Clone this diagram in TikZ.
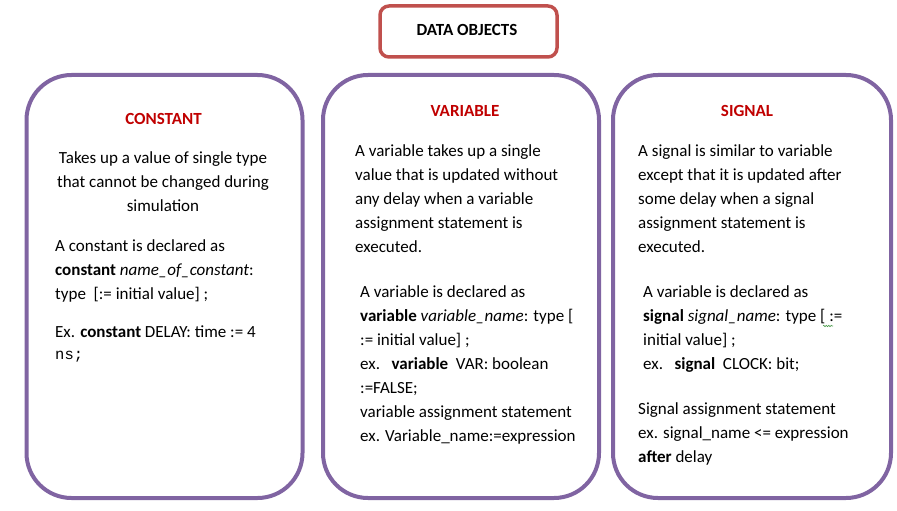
\documentclass[tikz,border=0pt]{standalone}
\usepackage{fontspec}
\setmainfont{Carlito}
\newfontfamily\codefont{Liberation Mono}
\usetikzlibrary{decorations.pathmorphing}
\definecolor{panelpurple}{HTML}{8064A2}
\definecolor{headframe}{HTML}{C0504D}
\definecolor{headred}{HTML}{C00000}
\definecolor{spellgreen}{HTML}{4A9A4A}
\begin{document}
\begin{tikzpicture}[x=1pt,y=-1pt,
  panel/.style={draw=panelpurple, line width=4pt, rounded corners=45pt,
    minimum width=276pt, minimum height=423pt, inner sep=0pt},
  headbox/.style={draw=headframe, line width=3.5pt, rounded corners=9pt,
    minimum width=177pt, minimum height=51pt},
  heading/.style={font=\fontsize{17}{20}\selectfont\bfseries, text=headred,
    anchor=base, inner sep=0pt},
  para/.style={font=\fontsize{17}{24}\selectfont, align=left,
    anchor=north west, inner sep=0pt},
  cpara/.style={para, align=center, anchor=north}]
\useasboundingbox (0,0) rectangle (897,511);

% title
\node[headbox] (title) at (468.5,31.5) {};
\node[heading, text=black] (titletext) at (467,35.5) {DATA OBJECTS};

% three panels
\node[panel] (constbox)  at (164.5,286.5) {};
\node[panel] (varbox)    at (461,286.5)   {};
\node[panel, minimum width=278pt] (sigbox) at (752,286.5) {};

% CONSTANT
\node[heading] (consthead) at (163.5,124) {CONSTANT};
\node[cpara] (constdesc) at (163,146.2)
  {\strut Takes up a value of single type\\
   that cannot be changed during\\
   simulation};
\node[para] (constdecl) at (55,234.2)
  {\strut A constant is declared as\\
   \textbf{constant} \textit{name\_of\_constant}:\\
   type\ \ [:= initial value] ;};
\node[para] (constex) at (55,320.2)
  {\strut Ex. \textbf{constant} DELAY: time := 4\\[-2pt]
   {\codefont\fontsize{15.5}{24}\selectfont ns;}};

% VARIABLE
\node[heading] (varhead) at (465,117) {VARIABLE};
\node[para] (vardesc) at (355,139.2)
  {\strut A variable takes up a single\\
   value that is updated without\\
   any delay when\ a variable\\
   assignment statement is\\
   executed.};
\node[para] (vardecl) at (360,280.2)
  {\strut A variable is declared as\\
   \textbf{variable} \textit{variable\_name}: type [\\
   := initial value] ;\\
   ex.\ \ \ \textbf{variable}\ \ VAR: boolean\\
   :=FALSE;\\
   variable assignment statement\\
   ex. Variable\_name:=expression};

% SIGNAL
\node[heading] (sighead) at (747,117) {SIGNAL};
\node[para] (sigdesc) at (638,139.2)
  {\strut A signal is similar to variable\\
   except that it is updated after\\
   some delay when a signal\\
   assignment statement is\\
   executed.};
\node[para] (sigdecl) at (643,280.2)
  {\strut A variable is declared as\\
   \textbf{signal} \textit{signal\_name}: type [ :=\\
   initial value] ;\\
   ex.\ \ \ \textbf{signal}\ \ CLOCK: bit;};
\node[para] (sigassign) at (638,397.2)
  {\strut Signal assignment statement\\
   ex. signal\_name <= expression\\
   \textbf{after} delay};

% spelling mark under "[ :"
\coordinate (squigA) at (823,326);
\coordinate (squigB) at (833,326);
\draw[spellgreen, line width=0.6pt, decorate,
  decoration={snake, amplitude=0.7pt, segment length=2.5pt}] (squigA) -- (squigB);
\end{tikzpicture}
\end{document}
